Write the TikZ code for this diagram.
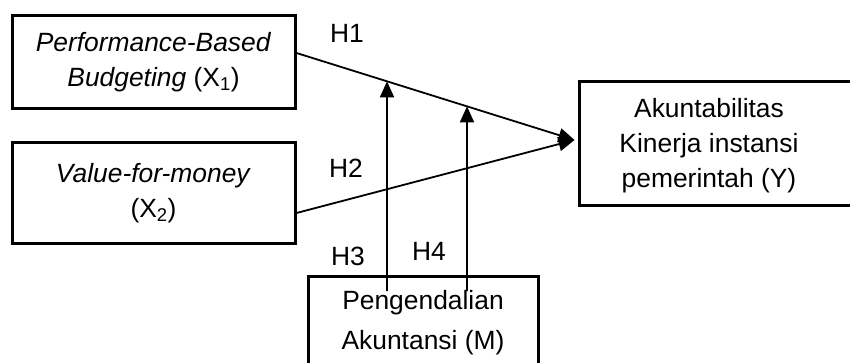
\documentclass[tikz,border=0pt]{standalone}
\usepackage{fontspec}
\setmainfont{Liberation Sans}
\usetikzlibrary{arrows.meta,calc}
\begin{document}
\begin{tikzpicture}[x=1pt,y=-1pt,
  txt/.style={inner sep=0pt,align=center,font=\fontsize{26.4pt}{35pt}\selectfont},
  box/.style={draw,line width=3pt,inner sep=0pt,align=center,font=\fontsize{26.4pt}{35pt}\selectfont},
  conn/.style={line width=1.8pt,-{Triangle[length=16pt,width=14pt]}}]
\useasboundingbox (0,0) rectangle (850,363);
% boxes
\node[box,minimum width=283pt,minimum height=93pt] (X1) at (153.5,62.5)
  {\textit{Performance-Based}\\\textit{Budgeting} (X\textsubscript{1})};
\node[box,minimum width=283pt,minimum height=100pt] (X2) at (153.5,193)
  {\textit{Value-for-money}\\(X\textsubscript{2})};
\node[box,minimum width=300pt,minimum height=124pt,anchor=west] (Y) at (578,144) {};
\node[txt] (Yt) at (709,146) {Akuntabilitas\\Kinerja instansi\\pemerintah (Y)};
\node[box,minimum width=230pt,minimum height=93pt,font=\fontsize{26.4pt}{40pt}\selectfont] (M) at (423,322.5)
  {Pengendalian\\Akuntansi (M)};
% connector points
\coordinate (s1) at ($(X1.east)+(0,-9.5)$);
\coordinate (s2) at ($(X2.east)+(0,20)$);
\coordinate (tip) at ($(Y.west)+(-3.5,-4)$);
\coordinate (m1) at (387,291);
\coordinate (m1up) at (387,0);
\coordinate (m2) at (467,291);
\coordinate (m2up) at (467,0);
% connectors
\draw[conn] (s1) -- (tip);
\draw[conn] (s2) -- (tip);
\draw[conn] (m1) -- (intersection of s1--tip and m1--m1up);
\draw[conn] (m2) -- (intersection of s1--tip and m2--m2up);
% labels
\node[txt] (H1) at (347,33) {H1};
\node[txt] (H2) at (346,168) {H2};
\node[txt] (H3) at (348,256) {H3};
\node[txt] (H4) at (429,251) {H4};
\end{tikzpicture}
\end{document}
